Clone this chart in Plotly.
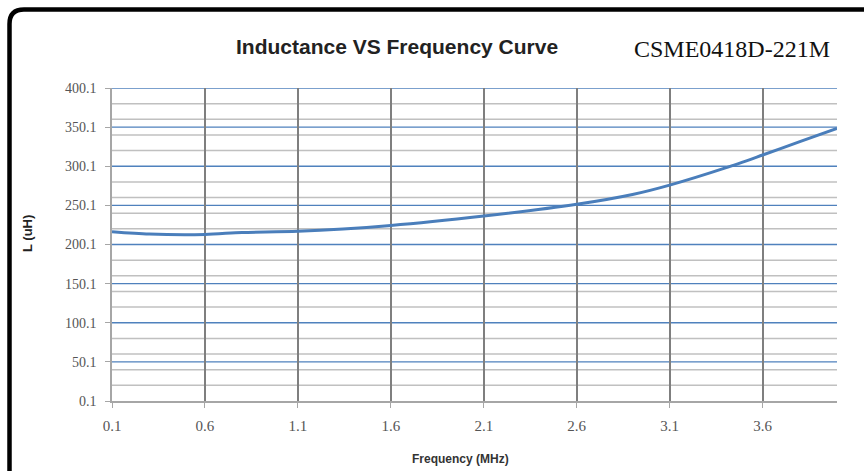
import plotly.graph_objects as go

# ---- data ----
freq_mhz = [0.1, 0.3, 0.6, 0.8, 1.1, 1.6, 2.1, 2.6, 2.9, 3.1, 3.4, 3.6, 3.8, 4.0]
inductance_uh = [216.5, 213.5, 213.0, 215.5, 217.0, 224.5, 236.5, 251.5, 264.0, 276.0, 298.0, 314.5, 331.5, 348.5]
x_ticks = [0.1, 0.6, 1.1, 1.6, 2.1, 2.6, 3.1, 3.6]
x_tick_labels = ["0.1", "0.6", "1.1", "1.6", "2.1", "2.6", "3.1", "3.6"]
y_ticks = [0.1, 50.1, 100.1, 150.1, 200.1, 250.1, 300.1, 350.1, 400.1]
y_tick_labels = ["0.1", "50.1", "100.1", "150.1", "200.1", "250.1", "300.1", "350.1", "400.1"]
y_minor_grid = [20.1, 40.1, 60.1, 80.1, 120.1, 140.1, 160.1, 180.1, 220.1, 240.1,
                260.1, 280.1, 320.1, 340.1, 360.1, 380.1]
title_text = "Inductance VS Frequency Curve"
part_text = "CSME0418D-221M"

W, H = 864, 471
L, R, T, B = 112, 27, 88, 70
PW, PH = W - L - R, H - T - B


def px(x):
    return (x - L) / PW


def py(y):
    return (H - B - y) / PH


fig = go.Figure()
fig.add_trace(go.Scatter(
    x=freq_mhz, y=inductance_uh, mode="lines",
    line=dict(color="#4a7ebb", width=3, shape="spline", smoothing=0.8),
    hoverinfo="skip", showlegend=False,
))

fig.update_layout(
    width=W, height=H,
    margin=dict(l=L, r=R, t=T, b=B),
    paper_bgcolor="white", plot_bgcolor="white",
    showlegend=False,
    xaxis=dict(
        range=[0.1, 4.0], tickvals=x_ticks, ticktext=x_tick_labels,
        showgrid=True, gridcolor="#7f7f7f", gridwidth=2,
        zeroline=False, showline=True, linecolor="#a6a6a6", linewidth=1.5,
        ticks="outside", ticklen=5, tickcolor="#a6a6a6",
        ticklabelstandoff=5,
        tickfont=dict(family="Liberation Serif", size=15, color="#555555"),
    ),
    yaxis=dict(
        range=[0.1, 400.1], tickvals=y_ticks, ticktext=y_tick_labels,
        showgrid=False,
        zeroline=False, showline=True, linecolor="#a6a6a6", linewidth=1.5,
        ticks="outside", ticklen=5, tickcolor="#a6a6a6",
        ticklabelstandoff=6,
        tickfont=dict(family="Liberation Serif", size=14, color="#555555"),
    ),
)

# minor horizontal gridlines (gray)
for yv in y_minor_grid:
    fig.add_shape(
        type="line", xref="x domain", yref="y", x0=0, x1=1, y0=yv, y1=yv,
        line=dict(color="#c0c0c0", width=1.5), layer="below",
    )
# major horizontal gridlines (blue)
for yv in y_ticks[1:]:
    fig.add_shape(
        type="line", xref="x domain", yref="y", x0=0, x1=1, y0=yv, y1=yv,
        line=dict(color="#4f81bd", width=1.3), layer="below",
    )

fig.add_annotation(
    x=px(397), y=py(46), xref="paper", yref="paper", showarrow=False,
    text="<b>" + title_text + "</b>", xanchor="center", yanchor="middle",
    font=dict(family="Liberation Sans", size=21, color="#222222"),
)
fig.add_annotation(
    x=px(632), y=py(49), xref="paper", yref="paper", showarrow=False,
    text=part_text, xanchor="left", yanchor="middle",
    font=dict(family="Liberation Serif", size=24, color="#111111"),
)
fig.add_annotation(
    x=px(28), y=py(234), xref="paper", yref="paper", showarrow=False,
    text="<b>L (uH)</b>", textangle=-90, xanchor="center", yanchor="middle",
    font=dict(family="Liberation Sans", size=13, color="#222222"),
)
fig.add_annotation(
    x=px(460), y=py(459), xref="paper", yref="paper", showarrow=False,
    text="<b>Frequency (MHz)</b>", xanchor="center", yanchor="middle",
    font=dict(family="Liberation Sans", size=12, color="#333333"),
)

# outer frame: thick black line on top and left with rounded corner
fig.add_shape(
    type="path", xref="paper", yref="paper",
    path=f"M {px(9.5)},{py(480)} L {px(9.5)},{py(24)} Q {px(9.5)},{py(9.5)} {px(24)},{py(9.5)} L {px(880)},{py(9.5)}",
    line=dict(color="black", width=4.5),
)

fig.write_html("out.html")
